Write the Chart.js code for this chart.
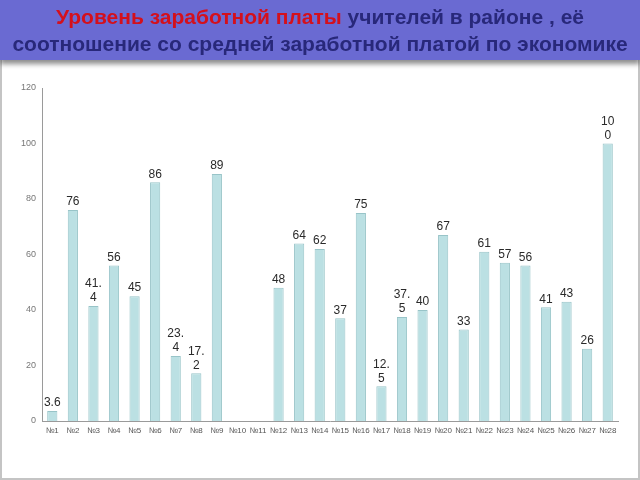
<!DOCTYPE html>
<html>
<head>
<meta charset="utf-8">
<script src="https://cdn.jsdelivr.net/npm/chart.js@4"></script>
<style>
  body { margin: 0; width: 640px; height: 480px; overflow: hidden; background: #fff; font-family: "Liberation Sans", Arial, sans-serif; }
  #frame { position: absolute; left: 0; top: 0; width: 636px; height: 478px; border: 2px solid #c4c4c4; border-top: none; }
  #banner { position: absolute; left: 0; top: 0; width: 640px; height: 60px; background: #6a6ad2;
    box-shadow: 0 4px 5px rgba(0,0,0,0.45); text-align: center; font-weight: bold; font-size: 21px;
    line-height: 27px; padding-top: 3px; box-sizing: border-box; color: #28287a; z-index: 2; white-space: nowrap; }
  #banner .red { color: #d4101c; }
  #wrap { position: absolute; left: 0; top: 0; width: 640px; height: 480px; }
</style>
</head>
<body>
<div id="frame"></div>
<div id="wrap"><canvas id="chart"></canvas></div>
<div id="banner"><span class="red">Уровень заработной платы</span> учителей в районе , её<br>соотношение со средней заработной платой по экономике</div>
<script>
document.addEventListener("DOMContentLoaded", () => {
  // schools №1..№28
  const labels = Array.from({ length: 28 }, (_, i) => "№" + (i + 1));
  const values = [3.6, 76, 41.4, 56, 45, 86, 23.4, 17.2, 89, null, null, 48, 64, 62, 37, 75, 12.5, 37.5, 40, 67, 33, 61, 57, 56, 41, 43, 26, 100];
  // value labels as printed in the picture (some wrap onto two lines)
  const valueText = [["3.6"], ["76"], ["41.", "4"], ["56"], ["45"], ["86"], ["23.", "4"], ["17.", "2"], ["89"], [], [],
    ["48"], ["64"], ["62"], ["37"], ["75"], ["12.", "5"], ["37.", "5"], ["40"], ["67"], ["33"], ["61"], ["57"], ["56"],
    ["41"], ["43"], ["26"], ["10", "0"]];
  const yTicks = [0, 20, 40, 60, 80, 100, 120];

  // draws the value above each bar
  const valueLabels = {
    id: "valueLabels",
    afterDatasetsDraw(chart) {
      const ctx = chart.ctx;
      const meta = chart.getDatasetMeta(0);
      ctx.save();
      ctx.font = "12px 'Liberation Sans', Arial, sans-serif";
      ctx.fillStyle = "#2a2a2a";
      ctx.textAlign = "center";
      ctx.textBaseline = "bottom";
      meta.data.forEach((bar, i) => {
        const lines = valueText[i];
        if (!lines || !lines.length || values[i] == null) return;
        let y = bar.y - 2;
        for (let k = lines.length - 1; k >= 0; k--) {
          ctx.fillText(lines[k], bar.x, y);
          y -= 14;
        }
      });
      ctx.restore();
    },
  };

  const ctx = document.getElementById("chart").getContext("2d");
  new Chart(ctx, {
    type: "bar",
    data: {
      labels: labels,
      datasets: [
        {
          data: values,
          backgroundColor: "#bbe0e3",
          borderColor: "#98c4c8",
          borderWidth: 1,
          barPercentage: 0.55,
          categoryPercentage: 0.9,
        },
      ],
    },
    options: {
      responsive: true,
      maintainAspectRatio: false,
      animation: false,
      layout: { padding: { top: 88, right: 22, left: 0, bottom: 0 } },
      plugins: {
        legend: { display: false },
        tooltip: { enabled: false },
      },
      scales: {
        x: {
          grid: { display: false, drawTicks: false },
          border: { color: "#9a9a9a", width: 1 },
          ticks: {
            color: "#555",
            font: { size: 8, family: "'Liberation Sans', Arial, sans-serif" },
            padding: 5,
            autoSkip: false,
            maxRotation: 0,
          },
          afterFit: (scale) => { scale.height = 59; },
        },
        y: {
          min: 0,
          max: 120,
          afterBuildTicks: (scale) => { scale.ticks = yTicks.map((v) => ({ value: v })); },
          grid: { display: false, drawTicks: false },
          border: { color: "#9a9a9a", width: 1 },
          ticks: {
            color: "#777",
            font: { size: 9, family: "'Liberation Sans', Arial, sans-serif" },
            padding: 6,
          },
          afterFit: (scale) => { scale.width = 42; },
        },
      },
    },
    plugins: [valueLabels],
  });
});
</script>
</body>
</html>
